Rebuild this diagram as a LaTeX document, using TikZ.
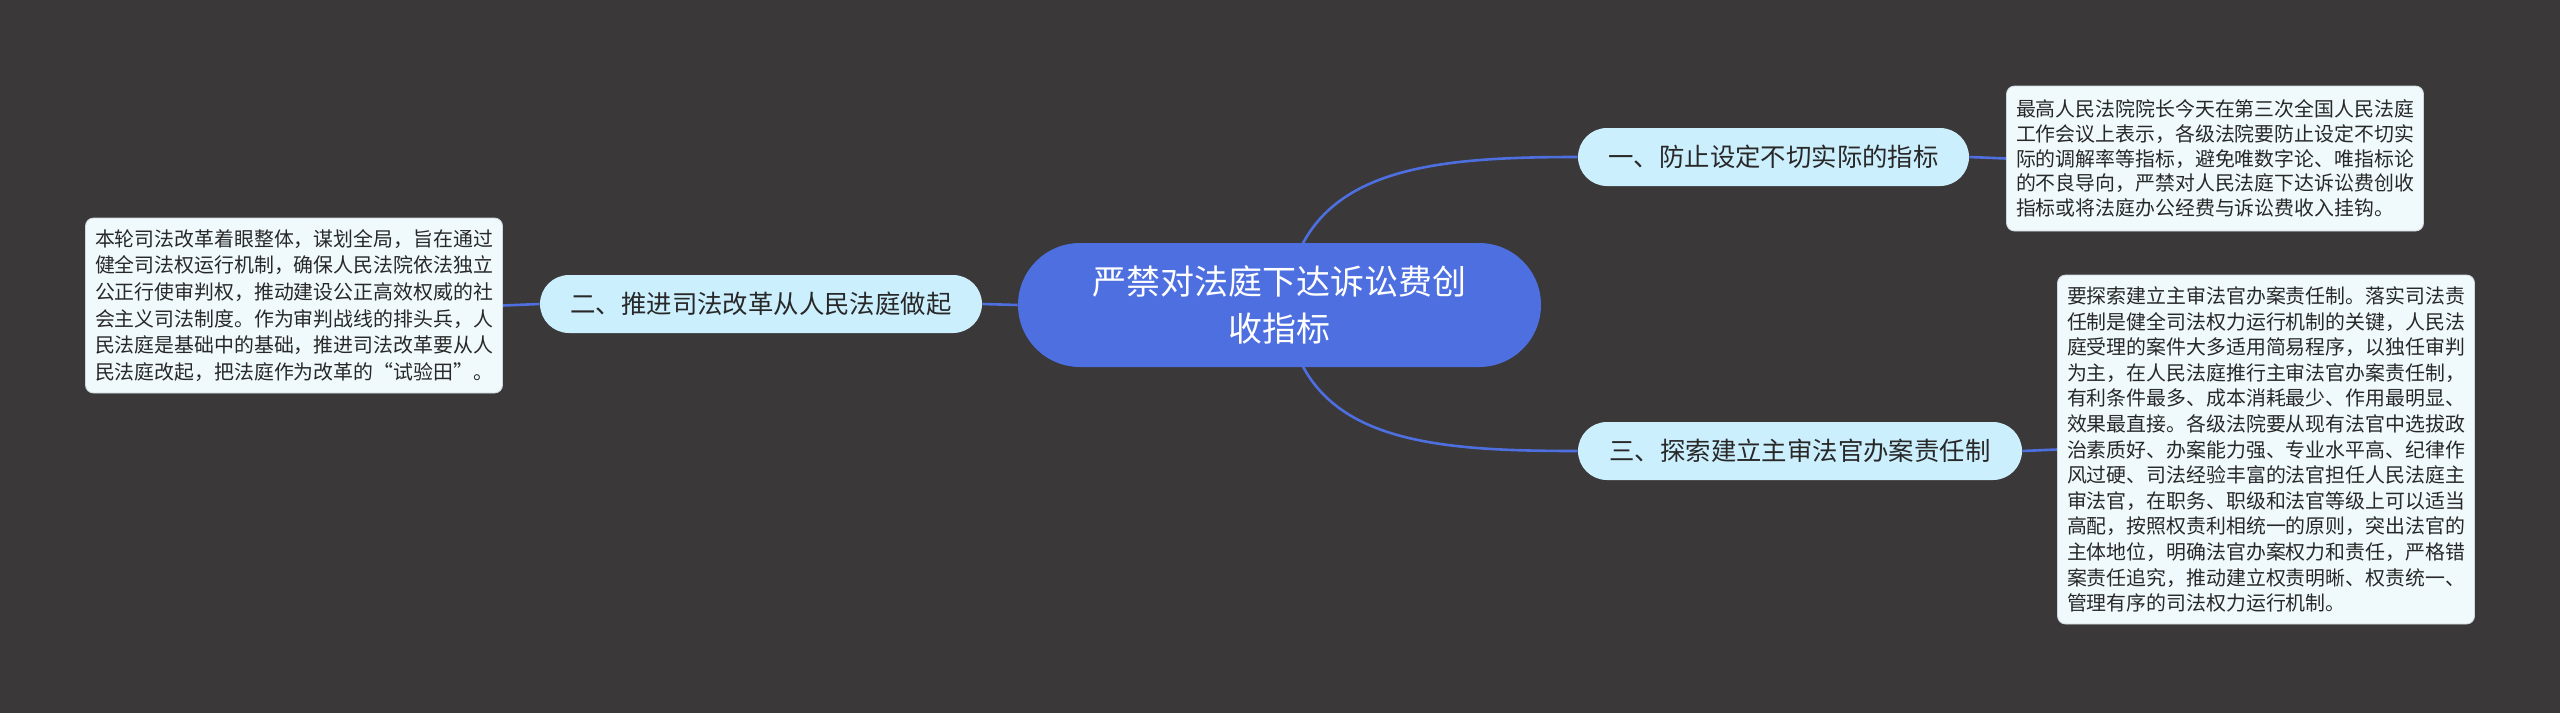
\documentclass[tikz,border=0pt]{standalone}
\usepackage{fontspec}
\newfontfamily\cjk{Noto Sans CJK SC}
\definecolor{bgc}{RGB}{58,56,57}
\definecolor{rootc}{RGB}{77,111,224}
\definecolor{branchc}{RGB}{204,239,253}
\definecolor{leafc}{RGB}{240,250,253}
\definecolor{leafborder}{RGB}{205,215,220}
\definecolor{txtc}{RGB}{40,40,40}
\pgfdeclarelayer{back}
\pgfdeclarelayer{edges}
\pgfsetlayers{back,edges,main}
\tikzset{
  rootnode/.style={fill=rootc, text=white, rounded corners=31pt, minimum width=261.5pt, minimum height=62pt, inner sep=0pt, align=center, font=\cjk\fontsize{17pt}{23.5pt}\selectfont},
  branchnode/.style={fill=branchc, text=txtc, rounded corners=14.5pt, minimum height=29pt, inner sep=0pt, align=center, font=\cjk\fontsize{12.7pt}{15pt}\selectfont},
  leafnode/.style={fill=leafc, draw=leafborder, line width=0.4pt, text=txtc, rounded corners=4pt, minimum width=208.5pt, inner sep=0pt, align=left},
  conn/.style={draw=rootc, line width=1.3pt}
}
\begin{document}
\begin{tikzpicture}[x=0.5pt,y=-0.5pt]
\begin{pgfonlayer}{back}
\fill[bgc] (0,0) rectangle (2560,713);
\end{pgfonlayer}
\useasboundingbox (0,0) rectangle (2560,713);

\node[rootnode] (root) at (1279.5,305) {严禁对法庭下达诉讼费创\\收指标};

\node[branchnode, minimum width=195.5pt] (n1) at (1773.5,157) {一、防止设定不切实际的指标};
\node[branchnode, minimum width=221pt] (n2) at (761,304) {二、推进司法改革从人民法庭做起};
\node[branchnode, minimum width=222pt] (n3) at (1800,451) {三、探索建立主审法官办案责任制};

\node[leafnode, minimum height=72.5pt, font=\cjk\fontsize{9.95pt}{12.3pt}\selectfont] (b1) at (2215,158.5) {最高人民法院院长今天在第三次全国人民法庭\\工作会议上表示，各级法院要防止设定不切实\\际的调解率等指标，避免唯数字论、唯指标论\\的不良导向，严禁对人民法庭下达诉讼费创收\\指标或将法庭办公经费与诉讼费收入挂钩。};

\node[leafnode, minimum height=87.5pt, font=\cjk\fontsize{9.95pt}{13.35pt}\selectfont] (b2) at (294,305.5) {本轮司法改革着眼整体，谋划全局，旨在通过\\健全司法权运行机制，确保人民法院依法独立\\公正行使审判权，推动建设公正高效权威的社\\会主义司法制度。作为审判战线的排头兵，人\\民法庭是基础中的基础，推进司法改革要从人\\民法庭改起，把法庭作为改革的“试验田”。};

\node[leafnode, minimum height=174.5pt, font=\cjk\fontsize{9.95pt}{12.8pt}\selectfont] (b3) at (2266,449.5) {要探索建立主审法官办案责任制。落实司法责\\任制是健全司法权力运行机制的关键，人民法\\庭受理的案件大多适用简易程序，以独任审判\\为主，在人民法庭推行主审法官办案责任制，\\有利条件最多、成本消耗最少、作用最明显、\\效果最直接。各级法院要从现有法官中选拔政\\治素质好、办案能力强、专业水平高、纪律作\\风过硬、司法经验丰富的法官担任人民法庭主\\审法官，在职务、职级和法官等级上可以适当\\高配，按照权责利相统一的原则，突出法官的\\主体地位，明确法官办案权力和责任，严格错\\案责任追究，推动建立权责明晰、权责统一、\\管理有序的司法权力运行机制。};

\coordinate (rc) at (1285,305);
\begin{pgfonlayer}{edges}
\draw[conn] (rc) .. controls (1300,170) and (1420,157) .. (n1.west);
\draw[conn] (rc) .. controls (1300,440) and (1420,451) .. (n3.west);
\draw[conn] (root.west) -- (n2.east);
\draw[conn] (n2.west) -- (b2.east);
\draw[conn] (n1.east) -- (b1.west);
\draw[conn] (n3.east) -- (b3.west);
\end{pgfonlayer}
\end{tikzpicture}
\end{document}
